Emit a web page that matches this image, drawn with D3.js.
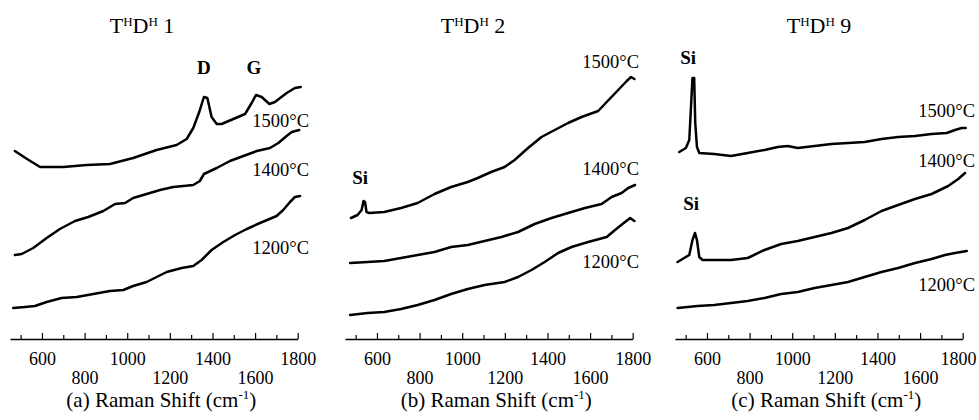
<!DOCTYPE html>
<html>
<head>
<meta charset="utf-8">
<script src="https://cdn.jsdelivr.net/npm/d3@7"></script>
<style>
  body { margin: 0; background: #fff; }
  svg { display: block; }
  text { font-family: "Liberation Serif", "Times New Roman", serif; fill: #000; }
</style>
</head>
<body>
<svg id="chart" width="979" height="420"></svg>
<script>
// Raman spectra, [wavenumber (cm-1), intensity (a.u., offset)]
const a1500 = [[473,188],[530,180],[591,172],[700,172],[810,174],[919,175],[1028,181],[1138,189],[1232,194],[1279,200],[1310,211],[1338,227],[1360,242],[1376,241],[1396,222],[1420,215],[1443,215],[1498,220],[1553,225],[1584,236],[1604,244],[1631,242],[1667,235],[1693,237],[1748,246],[1787,251],[1814,252]];
const a1400 = [[473,84],[505,85],[559,91],[622,101],[684,110],[755,118],[817,122],[888,128],[943,135],[990,136],[1028,141],[1091,145],[1154,149],[1216,152],[1310,154],[1341,158],[1360,165],[1420,171],[1482,178],[1545,183],[1608,188],[1670,191],[1709,196],[1748,203],[1772,207],[1807,209]];
const a1200 = [[465,31],[520,32],[567,33],[622,37],[692,41],[763,42],[841,45],[919,48],[982,49],[1028,53],[1091,57],[1185,67],[1256,71],[1310,73],[1349,79],[1396,89],[1451,97],[1506,104],[1561,110],[1623,116],[1701,123],[1732,129],[1764,137],[1787,142],[1811,143]];

const b1500 = [[478,121],[509,124],[528,129],[537,138],[544,137],[551,127],[564,126],[634,127],[713,131],[791,136],[870,145],[948,152],[1026,157],[1073,161],[1136,167],[1199,172],[1246,179],[1309,191],[1372,202],[1434,209],[1497,216],[1560,222],[1638,228],[1678,237],[1732,249],[1772,258],[1792,262],[1808,260]];
const b1400 = [[474,76],[556,77],[634,78],[713,81],[791,84],[870,87],[948,92],[1026,94],[1105,98],[1184,102],[1262,107],[1340,115],[1419,121],[1497,126],[1576,131],[1654,135],[1701,142],[1748,146],[1779,151],[1811,154]];
const b1200 = [[474,24],[556,26],[634,27],[713,30],[791,34],[870,39],[948,45],[1026,50],[1105,54],[1199,57],[1262,62],[1325,69],[1387,77],[1450,86],[1513,92],[1591,97],[1678,102],[1717,109],[1764,117],[1788,121],[1808,118]];

const c1500 = [[470,187],[501,191],[517,199],[525,232],[532,261],[540,261],[545,216],[553,192],[564,186],[634,185],[713,183],[791,186],[870,189],[932,192],[979,193],[1026,191],[1105,193],[1184,195],[1262,196],[1340,197],[1419,200],[1497,202],[1576,203],[1654,205],[1725,206],[1764,209],[1795,211],[1814,211]];
const c1400 = [[462,77],[493,81],[517,84],[532,99],[544,106],[553,99],[564,82],[579,79],[634,79],[713,79],[791,81],[870,89],[948,95],[1026,98],[1105,102],[1184,106],[1262,111],[1340,119],[1419,128],[1497,134],[1576,140],[1654,145],[1732,153],[1779,160],[1811,166]];
const c1200 = [[462,31],[556,33],[634,34],[713,36],[791,38],[870,41],[948,45],[1026,47],[1105,51],[1184,54],[1262,57],[1340,62],[1419,67],[1497,71],[1576,76],[1654,80],[1717,84],[1764,86],[1819,88]];

const temps = ["1500°C", "1400°C", "1200°C"];
const tickValues = d3.range(500, 1801, 100);
const labelTop = [600, 1000, 1400, 1800];
const labelBottom = [800, 1200, 1600];
const sampleNames = ["1", "2", "9"];
const panelLetters = ["a", "b", "c"];

// layout for each panel
const panels = [
  { x0: 10,  titleX: 142, series: [a1500, a1400, a1200], labelX: 309, labelY: [127, 176, 254],
    peaks: [{ t: "D", wn: 1360, y: 74 }, { t: "G", wn: 1595, y: 74 }] },
  { x0: 345, titleX: 473, series: [b1500, b1400, b1200], labelX: 639, labelY: [68, 175, 268],
    peaks: [{ t: "Si", wn: 521, y: 184 }] },
  { x0: 675, titleX: 819, series: [c1500, c1400, c1200], labelX: 975, labelY: [117, 167, 291],
    peaks: [{ t: "Si", wn: 512, y: 64 }, { t: "Si", wn: 526, y: 210 }] }
];

const W = 979;
const svg = d3.select("#chart");
const axisY = 339;
const axisW = 287.7;
const serif = '"Liberation Serif", "Times New Roman", serif';

const y = d3.scaleLinear().domain([0, 300]).range([axisY, 39]);

panels.forEach((p, i) => {
  const x = d3.scaleLinear().domain([450, 1800]).range([p.x0, p.x0 + axisW]);
  const g = svg.append("g");

  // title
  const title = g.append("text")
    .attr("x", p.titleX).attr("y", 33)
    .attr("text-anchor", "middle")
    .style("font-size", "22px");
  title.append("tspan").text("T");
  title.append("tspan").text("H").style("font-size", "13px").attr("dy", -7);
  title.append("tspan").text("D").attr("dy", 7);
  title.append("tspan").text("H").style("font-size", "13px").attr("dy", -7);
  title.append("tspan").text(" " + sampleNames[i]).attr("dy", 7);

  // spectra
  const line = d3.line().x(d => x(d[0])).y(d => y(d[1]));
  g.selectAll("path.spec")
    .data(p.series)
    .join("path")
      .attr("class", "spec")
      .attr("d", line)
      .attr("fill", "none")
      .attr("stroke", "#000")
      .attr("stroke-width", 2.5)
      .attr("stroke-linejoin", "round")
      .attr("stroke-linecap", "round");

  // temperature labels
  g.selectAll("text.temp")
    .data(temps)
    .join("text")
      .attr("class", "temp")
      .attr("x", p.labelX)
      .attr("y", (d, k) => p.labelY[k])
      .attr("text-anchor", "end")
      .style("font-size", "18.5px")
      .text(d => d);

  // peak annotations
  g.selectAll("text.peak")
    .data(p.peaks)
    .join("text")
      .attr("class", "peak")
      .attr("x", d => x(d.wn))
      .attr("y", d => d.y)
      .attr("text-anchor", "middle")
      .style("font-size", "19px")
      .style("font-weight", "bold")
      .text(d => d.t);

  // x axis
  const axis = d3.axisBottom(x)
    .tickValues(tickValues)
    .tickSizeInner(-6)
    .tickSizeOuter(0)
    .tickPadding(4)
    .tickFormat(d => (labelTop.includes(d) || labelBottom.includes(d)) ? d : "");

  const ag = g.append("g")
    .attr("transform", `translate(0,${axisY})`)
    .call(axis)
    .attr("font-family", null)
    .attr("font-size", null);
  ag.select(".domain").attr("stroke-width", 1.3);
  ag.selectAll(".tick line")
    .attr("y2", d => (d % 200 === 0) ? -6 : -4)
    .attr("stroke-width", 1.2);
  ag.selectAll(".tick text")
    .attr("y", d => labelBottom.includes(d) ? 45 : 26)
    .attr("dy", 0)
    .style("font-family", serif)
    .style("font-size", "18px")
    .attr("fill", "#000")
    .each(function(d) {
      // keep the last label inside the picture
      const over = x(d) + this.getComputedTextLength() / 2 - (W - 3);
      if (over > 0) d3.select(this).attr("x", -over);
    });

  // axis title
  const at = g.append("text")
    .attr("x", x(1160)).attr("y", 407)
    .attr("text-anchor", "middle")
    .style("font-family", serif)
    .style("font-size", "21px");
  at.append("tspan").text(`(${panelLetters[i]}) Raman Shift (cm`);
  at.append("tspan").text("-1").style("font-size", "13px").attr("dy", -8);
  at.append("tspan").text(")").attr("dy", 8);
});
</script>
</body>
</html>
